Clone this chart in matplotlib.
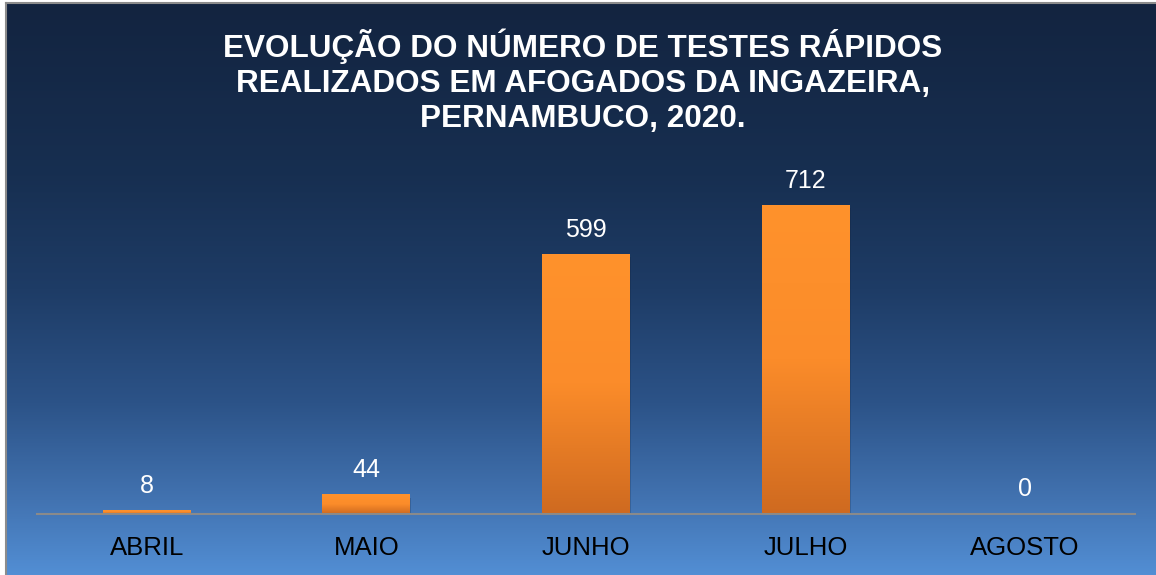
import numpy as np
import matplotlib.pyplot as plt
from matplotlib.colors import LinearSegmentedColormap

# dados
meses = ["ABRIL", "MAIO", "JUNHO", "JULHO", "AGOSTO"]
testes = [8, 44, 599, 712, 0]
titulo = ("EVOLUÇÃO DO NÚMERO DE TESTES RÁPIDOS\n"
          "REALIZADOS EM AFOGADOS DA INGAZEIRA,\n"
          "PERNAMBUCO, 2020.")

plt.rcParams['font.family'] = ['Liberation Sans', 'DejaVu Sans']

W, H = 1156, 575
fig = plt.figure(figsize=(W / 100, H / 100), dpi=100)
fig.patch.set_facecolor("white")

# fundo em gradiente
fundo = LinearSegmentedColormap.from_list(
    "fundo",
    [(0.0, "#132440"), (0.3, "#172f51"), (0.5, "#1e3c66"),
     (0.7, "#2c5388"), (0.87, "#4273b1"), (1.0, "#528ed4")])
bg = fig.add_axes([7 / W, 0, 1 - 7 / W, 1 - 4 / H])
bg.imshow(np.linspace(0, 1, 256).reshape(-1, 1), cmap=fundo, aspect="auto",
          extent=(0, 1, 1, 0))
bg.set_axis_off()
fig.add_artist(plt.Line2D([6 / W, 6 / W], [0, 1 - 3 / H], color="#8c8c8c", lw=1.5))
fig.add_artist(plt.Line2D([6 / W, 1], [1 - 3 / H, 1 - 3 / H], color="#8c8c8c", lw=1.5))

ax = fig.add_axes([37 / W, 1 - 514 / H, (1135 - 37) / W, (514 - 167) / H])
ax.patch.set_alpha(0)

laranja = LinearSegmentedColormap.from_list("laranja", ["#ff922c", "#fb8c2a", "#cf6a20"])
grad = np.linspace(0, 1, 128).reshape(-1, 1)
x = np.arange(len(meses))
largura = 0.4
barras = ax.bar(x, testes, width=largura, color="none", edgecolor="none")
for b, v in zip(barras, testes):
    x0 = b.get_x()
    if v > 0:
        # sombra leve
        ax.add_patch(plt.Rectangle((x0 + 0.005, -6), largura, v, color="#0b1a30",
                                   alpha=0.2, zorder=1, lw=0))
        ax.imshow(grad, cmap=laranja, aspect="auto", zorder=2,
                  extent=(x0, x0 + largura, 0, v))
    ax.annotate(str(v), (b.get_x() + largura / 2, v), xytext=(0, 9),
                textcoords="offset points", ha="center", va="bottom",
                color="white", fontsize=18)
ax.set_xlim(-0.5, 4.5)
ax.set_ylim(0, 800)

ax.set_xticks(x)
ax.set_xticklabels(meses, fontsize=18.5, color="black")
ax.tick_params(axis="x", length=0, pad=16)
ax.set_yticks([])
for s in ["top", "right", "left"]:
    ax.spines[s].set_visible(False)
ax.spines["bottom"].set_color("#8a8a8a")
ax.spines["bottom"].set_linewidth(1.5)
ax.spines["bottom"].set_zorder(3)

fig.text(583 / W, 1 - 28 / H, titulo, ha="center", va="top", fontsize=22.7,
         fontweight="bold", color="white", linespacing=1.22)

fig.savefig("out.png", dpi=100)
